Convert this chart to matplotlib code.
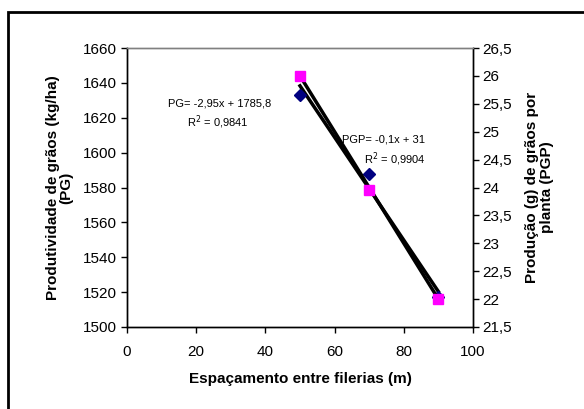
import matplotlib
matplotlib.use("Agg")
import matplotlib.pyplot as plt
from matplotlib.patches import Rectangle
import numpy as np

plt.rcParams['font.family'] = ['Liberation Sans', 'DejaVu Sans']

espacamento = [50, 70, 90]
pg = [1633, 1588, 1517]
pgp = [26.0, 23.95, 22.0]

pg_slope, pg_int = -2.95, 1785.8
pgp_slope, pgp_int = -0.1, 31.0

x_ticks = [0, 20, 40, 60, 80, 100]
pg_ticks = [1500, 1520, 1540, 1560, 1580, 1600, 1620, 1640, 1660]
pgp_ticks = [21.5, 22, 22.5, 23, 23.5, 24, 24.5, 25, 25.5, 26, 26.5]

def fmt(v):
    s = ('%g' % v)
    return s.replace('.', ',')

fig = plt.figure(figsize=(5.84, 4.09), dpi=100)
fig.patches.append(Rectangle((8/584, -0.1), 1.2, 1 - 12/409 + 0.1, transform=fig.transFigure,
                             fill=False, edgecolor='black', linewidth=2, zorder=0))

ax = fig.add_axes([127/584, 1 - 327/409, 346/584, 279/409])
ax2 = ax.twinx()

ax.set_xlim(0, 100)
ax.set_ylim(1500, 1660)
ax2.set_ylim(21.5, 26.5)
ax.set_xticks(x_ticks)
ax.set_xticklabels([fmt(t) for t in x_ticks])
ax.set_yticks(pg_ticks)
ax.set_yticklabels([fmt(t) for t in pg_ticks])
ax2.set_yticks(pgp_ticks)
ax2.set_yticklabels([fmt(t) for t in pgp_ticks])

for a in (ax, ax2):
    a.tick_params(direction='out', length=4, width=1, labelsize=11, colors='black', pad=3)
    for s in a.spines.values():
        s.set_linewidth(1)
    a.spines['top'].set_color('#808080')
ax.tick_params(axis='x', pad=9)

ax.plot(espacamento, pg, linestyle='none', marker='D', markersize=6,
        color='#000080', zorder=3)
xf = np.array([espacamento[0], espacamento[-1]])
ax.plot(xf, pg_slope * xf + pg_int, color='black', linewidth=2.5, zorder=2)

ax2.plot(xf, pgp_slope * xf + pgp_int, color='black', linewidth=2.5, zorder=2)
ax2.plot(espacamento, pgp, linestyle='none', marker='s', markersize=7,
         color='#FF00FF', zorder=3)

ax.set_xlabel('Espaçamento entre filerias (m)', fontsize=11, fontweight='bold', labelpad=9)
ax.set_ylabel('Produtividade de grãos (kg/ha)\n(PG)', fontsize=11, fontweight='bold', labelpad=7,
              linespacing=1.0)
ax2.set_ylabel('Produção (g) de grãos por\nplanta (PGP)', fontsize=11, fontweight='bold',
               rotation=90, labelpad=9, linespacing=1.15)

fig.text(220/584, 1 - 103/409, 'PG= -2,95x + 1785,8', fontsize=8, ha='center', va='center')
fig.text(218/584, 1 - 122/409, 'R$^2$ = 0,9841', fontsize=8, ha='center', va='center')
fig.text(384/584, 1 - 140/409, 'PGP= -0,1x + 31', fontsize=8, ha='center', va='center')
fig.text(395/584, 1 - 159/409, 'R$^2$ = 0,9904', fontsize=8, ha='center', va='center')

fig.savefig('out.png', dpi=100)
